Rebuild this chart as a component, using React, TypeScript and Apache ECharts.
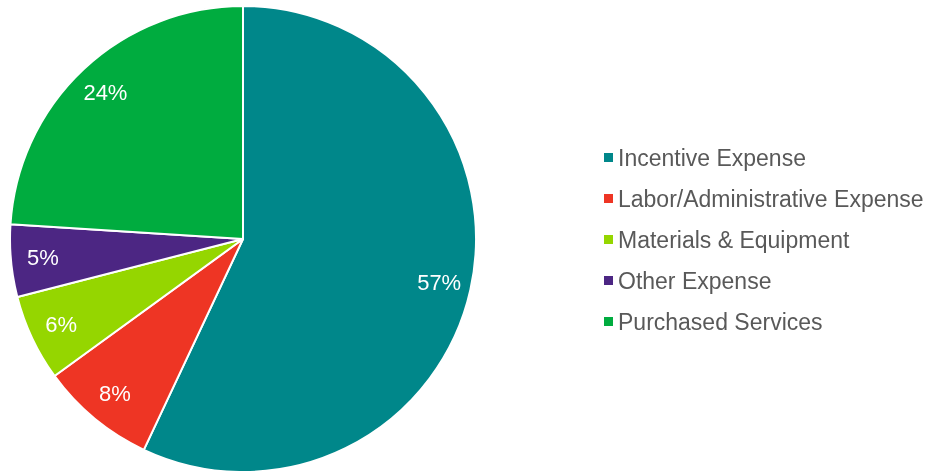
import React, { useEffect, useRef } from "react";
import * as echarts from "echarts";

const categories = [
  "Incentive Expense",
  "Labor/Administrative Expense",
  "Materials & Equipment",
  "Other Expense",
  "Purchased Services",
];
const values = [57, 8, 6, 5, 24];
const colors = ["#00878A", "#EE3524", "#95D600", "#4C2683", "#00AC3F"];

const FONT = "Liberation Sans";

export default function App() {
  const ref = useRef<HTMLDivElement>(null);
  useEffect(() => {
    if (!ref.current) return;
    const chart = echarts.init(ref.current, null, { renderer: "svg" });
    const data = categories.map((name, i) => ({
      name,
      value: values[i],
      itemStyle: { color: colors[i] },
    }));
    chart.setOption({
      animation: false,
      legend: {
        orient: "vertical",
        left: 604,
        top: 146,
        padding: 0,
        icon: "rect",
        itemWidth: 9,
        itemHeight: 9,
        itemGap: 18,
        itemTextGap: 11,
        itemStyle: { borderWidth: 0 },
        data: categories,
        textStyle: {
          fontFamily: FONT,
          fontSize: 23,
          lineHeight: 23,
          color: "#595959",
        },
        selectedMode: false,
      },
      series: [
        {
          type: "pie",
          center: [243, 239],
          radius: [0, 233],
          startAngle: 90,
          clockwise: true,
          silent: true,
          label: { show: false },
          labelLine: { show: false },
          itemStyle: { borderColor: "#ffffff", borderWidth: 2 },
          data,
        },
        {
          type: "pie",
          center: [243, 239],
          radius: [0, 396],
          startAngle: 90,
          clockwise: true,
          silent: true,
          z: 5,
          itemStyle: { color: "rgba(0,0,0,0)", borderWidth: 0 },
          labelLine: { show: false },
          label: {
            show: true,
            position: "inside",
            formatter: (p: any) => p.value + "%",
            color: "#ffffff",
            fontSize: 22,
            fontFamily: FONT,
          },
          data: categories.map((name, i) => ({ name: name + " ", value: values[i] })),
        },
      ],
    });
    return () => chart.dispose();
  }, []);
  return (
    <div
      ref={ref}
      style={{ position: "fixed", left: 0, top: 0, width: 940, height: 471 }}
    />
  );
}
